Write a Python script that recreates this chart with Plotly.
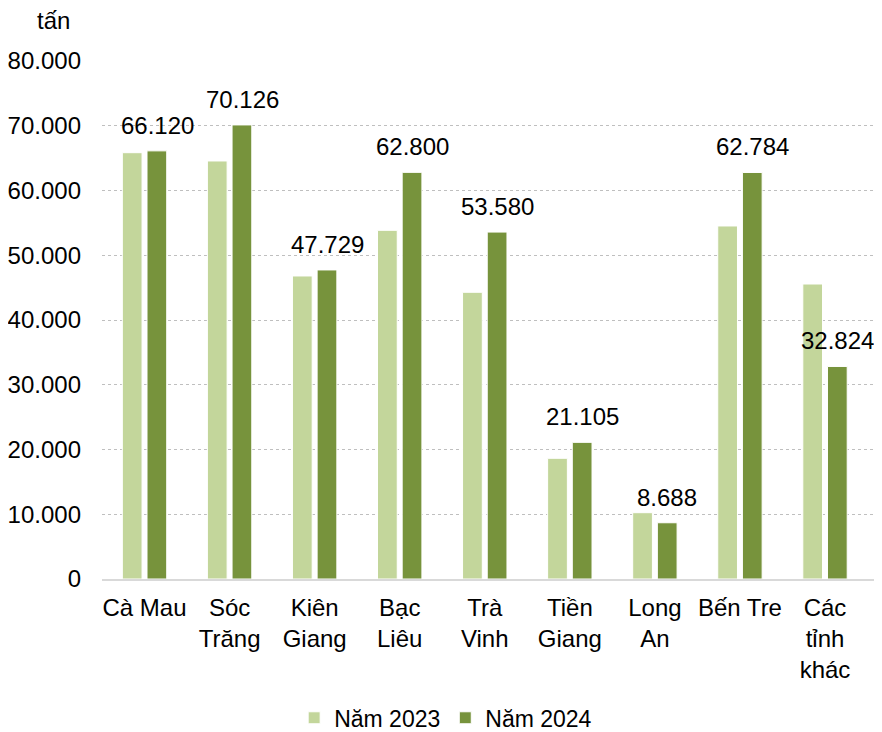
import plotly.graph_objects as go

categories = ["Cà Mau", "Sóc<br>Trăng", "Kiên<br>Giang", "Bạc<br>Liêu", "Trà<br>Vinh",
              "Tiền<br>Giang", "Long<br>An", "Bến Tre", "Các<br>tỉnh<br>khác"]
values_2023 = [65840, 64560, 46800, 53850, 44280, 18640, 10240, 54520, 45560]
values_2024 = [66120, 70126, 47729, 62800, 53580, 21105, 8688, 62784, 32824]
series_names = ["Năm 2023", "Năm 2024"]
y_unit = "tấn"

FONT = "Liberation Sans, Arial, sans-serif"
FS = 24
C_LIGHT = "#C3D69B"
C_DARK = "#77933C"

fig = go.Figure()
fig.add_trace(go.Bar(x=categories, y=values_2023, name=series_names[0],
                     marker=dict(color=C_LIGHT, line=dict(color="white", width=1))))
fig.add_trace(go.Bar(x=categories, y=values_2024, name=series_names[1],
                     marker=dict(color=C_DARK, line=dict(color="white", width=1))))

annotations = []
for c, v in zip(categories, values_2024):
    annotations.append(dict(x=c, y=v, xref="x", yref="y", text=f"{v:,}".replace(",", "."),
                            showarrow=False, xshift=12.5, yanchor="bottom", yshift=10,
                            font=dict(family=FONT, size=FS, color="#000000")))
annotations.append(dict(x=-0.063, y=1.079, xref="paper", yref="paper", text=y_unit,
                        showarrow=False, xanchor="center", yanchor="middle",
                        font=dict(family=FONT, size=FS, color="#000000")))

fig.update_layout(
    width=874, height=724,
    margin=dict(l=94, r=5.5, t=53, b=153, autoexpand=False),
    paper_bgcolor="white", plot_bgcolor="white",
    separators=",.",
    font=dict(family=FONT, size=FS, color="#000000"),
    barmode="group", bargap=0.42, bargroupgap=0.2,
    showlegend=True,
    legend=dict(orientation="h", x=0.444, xanchor="center", y=-0.268, yanchor="middle",
                font=dict(family=FONT, size=23, color="#000000"), itemwidth=30),
    annotations=annotations,
)
fig.update_yaxes(range=[0, 80000], dtick=10000, tickformat=",d",
                 showgrid=True, gridcolor="#BFBFBF", griddash="dot", gridwidth=1,
                 zeroline=False, showline=False, ticks="", ticklabelstandoff=20,
                 tickfont=dict(family=FONT, size=FS, color="#000000"))
fig.update_xaxes(showline=True, linecolor="#D9D9D9", linewidth=2, ticks="",
                 ticklabelstandoff=6,
                 tickfont=dict(family=FONT, size=FS, color="#000000"), tickangle=0)

fig.write_html("out.html")
